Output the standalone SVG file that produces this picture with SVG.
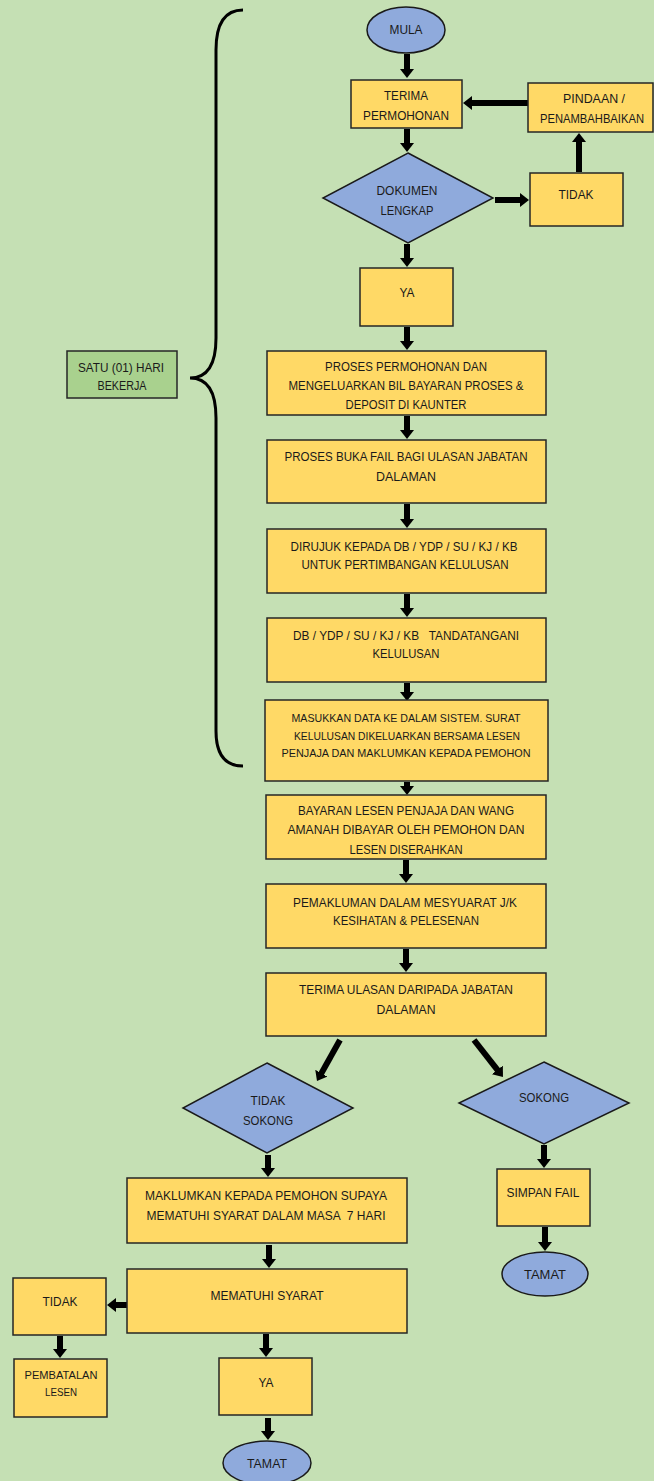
<svg xmlns="http://www.w3.org/2000/svg" width="654" height="1481" viewBox="0 0 654 1481">
<defs>
<style>
.bg{fill:#C5E0B4}
.box{fill:#FFD966;stroke:#262626;stroke-width:1.5}
.blue{fill:#8FAADC;stroke:#1a1a1a;stroke-width:1.5}
.green{fill:#A9D18E;stroke:#262626;stroke-width:1.5}
text{font-family:"Liberation Sans",Arial,sans-serif;font-size:12.5px;fill:#1a1a1a;text-anchor:middle}
.sm{font-size:11.5px}
.xs{font-size:11px}
.arr{stroke:#000;stroke-width:6;fill:none;marker-end:url(#ah)}
.brace{stroke:#000;stroke-width:3;fill:none}
</style>
<marker id="ah" markerUnits="userSpaceOnUse" markerWidth="10" markerHeight="14" refX="1" refY="7" orient="auto">
<path d="M0,0 L9,7 L0,14 z" fill="#000"/>
</marker>
</defs>
<rect class="bg" x="0" y="0" width="654" height="1481"/>

<g id="connectors">
<line class="arr" x1="407" y1="54" x2="407" y2="70"/>
<line class="arr" x1="407" y1="129" x2="407" y2="144"/>
<line class="arr" x1="407" y1="244" x2="407" y2="259"/>
<line class="arr" x1="407" y1="327" x2="407" y2="342"/>
<line class="arr" x1="407" y1="416" x2="407" y2="431"/>
<line class="arr" x1="407" y1="504" x2="407" y2="520"/>
<line class="arr" x1="407" y1="594" x2="407" y2="609"/>
<line class="arr" x1="407" y1="683" x2="407" y2="693"/>
<line class="arr" x1="407" y1="782" x2="407" y2="787"/>
<line class="arr" x1="406" y1="860" x2="406" y2="875"/>
<line class="arr" x1="406" y1="949" x2="406" y2="964"/>
<line class="arr" x1="340" y1="1040" x2="320.9" y2="1074.1"/>
<line class="arr" x1="474" y1="1040" x2="498" y2="1070.7"/>
<line class="arr" x1="268" y1="1155" x2="268" y2="1169"/>
<line class="arr" x1="544" y1="1145" x2="544" y2="1160"/>
<line class="arr" x1="545" y1="1227" x2="545" y2="1243"/>
<line class="arr" x1="269" y1="1245" x2="269" y2="1260"/>
<line class="arr" x1="127" y1="1305" x2="115" y2="1305"/>
<line class="arr" x1="60" y1="1336" x2="60" y2="1350"/>
<line class="arr" x1="266" y1="1334" x2="266" y2="1349"/>
<line class="arr" x1="268" y1="1418" x2="268" y2="1432"/>
<line class="arr" x1="495" y1="200" x2="521" y2="200"/>
<line class="arr" x1="579" y1="172" x2="579" y2="141"/>
<line class="arr" x1="528" y1="103" x2="471" y2="103"/>
</g>

<g id="brace">
<path class="brace" d="M243,10 Q216,10 216,50 L216,338 Q216,378 190,378 Q216,378 216,418 L216,731 Q216,766 243,766"/>
</g>

<g id="satu">
<rect class="green" x="67" y="351" width="110" height="47"/>
<text x="121" y="372" textLength="86" lengthAdjust="spacingAndGlyphs">SATU (01) HARI</text>
<text x="122" y="390" textLength="49" lengthAdjust="spacingAndGlyphs">BEKERJA</text>
</g>

<g id="mula">
<ellipse class="blue" cx="406" cy="30" rx="39" ry="23"/>
<text x="406" y="34" textLength="33" lengthAdjust="spacingAndGlyphs">MULA</text>
</g>

<g id="terima">
<rect class="box" x="351" y="80" width="111" height="48"/>
<text x="406" y="100" textLength="44" lengthAdjust="spacingAndGlyphs">TERIMA</text>
<text x="406" y="120" textLength="86" lengthAdjust="spacingAndGlyphs">PERMOHONAN</text>
</g>

<g id="dokumen">
<polygon class="blue" points="408,153 493,198 408,243 323,198"/>
<text x="407" y="195" textLength="61" lengthAdjust="spacingAndGlyphs">DOKUMEN</text>
<text x="407" y="215" textLength="53" lengthAdjust="spacingAndGlyphs">LENGKAP</text>
</g>

<g id="tidak1">
<rect class="box" x="530" y="173" width="93" height="53"/>
<text x="576" y="199" textLength="35" lengthAdjust="spacingAndGlyphs">TIDAK</text>
</g>

<g id="pindaan">
<rect class="box" x="528" y="83" width="125" height="49"/>
<text x="594" y="103" textLength="62" lengthAdjust="spacingAndGlyphs">PINDAAN /</text>
<text x="592" y="123" textLength="104" lengthAdjust="spacingAndGlyphs">PENAMBAHBAIKAN</text>
</g>

<g id="ya1">
<rect class="box" x="360" y="268" width="93" height="58"/>
<text x="407" y="297" textLength="15" lengthAdjust="spacingAndGlyphs">YA</text>
</g>

<g id="proses">
<rect class="box" x="267" y="351" width="279" height="64"/>
<text x="406" y="371" textLength="162" lengthAdjust="spacingAndGlyphs">PROSES PERMOHONAN DAN</text>
<text x="406" y="390" textLength="235" lengthAdjust="spacingAndGlyphs">MENGELUARKAN BIL BAYARAN PROSES &amp;</text>
<text x="406" y="409" textLength="121" lengthAdjust="spacingAndGlyphs">DEPOSIT DI KAUNTER</text>
</g>

<g id="buka">
<rect class="box" x="267" y="440" width="279" height="63"/>
<text x="406" y="461" textLength="243" lengthAdjust="spacingAndGlyphs">PROSES BUKA FAIL BAGI ULASAN JABATAN</text>
<text x="406" y="481" textLength="60" lengthAdjust="spacingAndGlyphs">DALAMAN</text>
</g>

<g id="dirujuk">
<rect class="box" x="267" y="529" width="279" height="64"/>
<text x="404" y="551" textLength="227" lengthAdjust="spacingAndGlyphs">DIRUJUK KEPADA DB / YDP / SU / KJ / KB</text>
<text x="405" y="569" textLength="207" lengthAdjust="spacingAndGlyphs">UNTUK PERTIMBANGAN KELULUSAN</text>
</g>

<g id="tandatangan">
<rect class="box" x="267" y="618" width="279" height="64"/>
<text x="406" y="640" textLength="226" lengthAdjust="spacingAndGlyphs" xml:space="preserve">DB / YDP / SU / KJ / KB   TANDATANGANI</text>
<text x="406" y="658" textLength="67" lengthAdjust="spacingAndGlyphs">KELULUSAN</text>
</g>

<g id="masukkan">
<rect class="box" x="265" y="700" width="283" height="81"/>
<text class="sm" x="406" y="722" textLength="229" lengthAdjust="spacingAndGlyphs">MASUKKAN DATA KE DALAM SISTEM. SURAT</text>
<text class="sm" x="407" y="740" textLength="226" lengthAdjust="spacingAndGlyphs">KELULUSAN DIKELUARKAN BERSAMA LESEN</text>
<text class="sm" x="406" y="757" textLength="249" lengthAdjust="spacingAndGlyphs">PENJAJA DAN MAKLUMKAN KEPADA PEMOHON</text>
</g>

<g id="bayaran">
<rect class="box" x="266" y="795" width="280" height="64"/>
<text x="406" y="815" textLength="216" lengthAdjust="spacingAndGlyphs">BAYARAN LESEN PENJAJA DAN WANG</text>
<text x="406" y="834" textLength="237" lengthAdjust="spacingAndGlyphs">AMANAH DIBAYAR OLEH PEMOHON DAN</text>
<text x="406" y="854" textLength="113" lengthAdjust="spacingAndGlyphs">LESEN DISERAHKAN</text>
</g>

<g id="pemakluman">
<rect class="box" x="266" y="884" width="280" height="64"/>
<text x="405" y="907" textLength="224" lengthAdjust="spacingAndGlyphs">PEMAKLUMAN DALAM MESYUARAT J/K</text>
<text x="406" y="925" textLength="146" lengthAdjust="spacingAndGlyphs">KESIHATAN &amp; PELESENAN</text>
</g>

<g id="ulasan">
<rect class="box" x="266" y="973" width="280" height="63"/>
<text x="406" y="994" textLength="214" lengthAdjust="spacingAndGlyphs">TERIMA ULASAN DARIPADA JABATAN</text>
<text x="406" y="1014" textLength="59" lengthAdjust="spacingAndGlyphs">DALAMAN</text>
</g>

<g id="tidaksokong">
<polygon class="blue" points="267,1063 353,1108 267,1153 183,1108"/>
<text x="268" y="1105" textLength="35" lengthAdjust="spacingAndGlyphs">TIDAK</text>
<text x="268" y="1125" textLength="50" lengthAdjust="spacingAndGlyphs">SOKONG</text>
</g>

<g id="sokong">
<polygon class="blue" points="544,1062 629,1103 544,1144 459,1103"/>
<text x="544" y="1102" textLength="50" lengthAdjust="spacingAndGlyphs">SOKONG</text>
</g>

<g id="simpan">
<rect class="box" x="497" y="1169" width="93" height="57"/>
<text x="543" y="1197" textLength="73" lengthAdjust="spacingAndGlyphs">SIMPAN FAIL</text>
</g>

<g id="tamat1">
<ellipse class="blue" cx="545" cy="1274" rx="43" ry="22"/>
<text x="545" y="1279" textLength="42" lengthAdjust="spacingAndGlyphs">TAMAT</text>
</g>

<g id="maklumkan">
<rect class="box" x="127" y="1178" width="280" height="65"/>
<text x="266" y="1200" textLength="242" lengthAdjust="spacingAndGlyphs">MAKLUMKAN KEPADA PEMOHON SUPAYA</text>
<text x="266" y="1220" textLength="239" lengthAdjust="spacingAndGlyphs" xml:space="preserve">MEMATUHI SYARAT DALAM MASA  7 HARI</text>
</g>

<g id="mematuhi">
<rect class="box" x="127" y="1269" width="280" height="64"/>
<text x="267" y="1300" textLength="113" lengthAdjust="spacingAndGlyphs">MEMATUHI SYARAT</text>
</g>

<g id="tidak2">
<rect class="box" x="13" y="1278" width="93" height="57"/>
<text x="60" y="1306" textLength="35" lengthAdjust="spacingAndGlyphs">TIDAK</text>
</g>

<g id="pembatalan">
<rect class="box" x="14" y="1359" width="93" height="58"/>
<text class="xs" x="61" y="1379" textLength="73" lengthAdjust="spacingAndGlyphs">PEMBATALAN</text>
<text class="xs" x="61" y="1396" textLength="32" lengthAdjust="spacingAndGlyphs">LESEN</text>
</g>

<g id="ya2">
<rect class="box" x="219" y="1358" width="93" height="57"/>
<text x="266" y="1387" textLength="15" lengthAdjust="spacingAndGlyphs">YA</text>
</g>

<g id="tamat2">
<ellipse class="blue" cx="267" cy="1463" rx="44" ry="22"/>
<text x="267" y="1468" textLength="40" lengthAdjust="spacingAndGlyphs">TAMAT</text>
</g>
</svg>
